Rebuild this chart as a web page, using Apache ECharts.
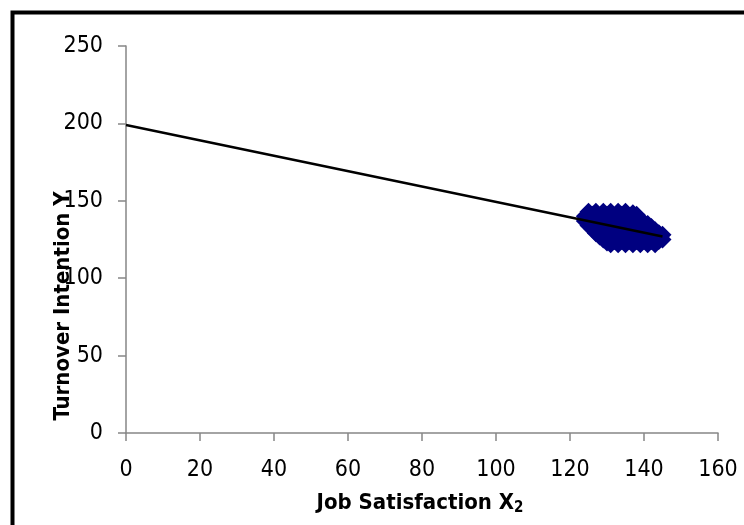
<!DOCTYPE html>
<html>
<head>
<meta charset="utf-8">
<script src="https://cdn.jsdelivr.net/npm/echarts@6/dist/echarts.min.js"></script>
<style>html,body{margin:0;padding:0;background:#fff;}#c{width:744px;height:525px;}</style>
</head>
<body>
<div id="c"></div>
<script>
// Observed scatter: job satisfaction (X2) values and turnover intention (Y) values
const satisfactionX = [
  124,124,
  125,125,125,
  126,126,126,
  127,127,127,127,
  128,128,128,128,
  129,129,129,129,129,
  130,130,130,130,130,
  131,131,131,131,131,131,
  132,132,132,132,132,
  133,133,133,133,133,133,
  134,134,134,134,134,
  135,135,135,135,135,135,
  136,136,136,136,136,
  137,137,137,137,137,137,
  138,138,138,138,138,
  139,139,139,139,139,
  140,140,140,140,
  141,141,141,141,
  142,142,142,
  143,143,143,
  144,144,
  145,145
];
const turnoverY = [
  137,140,
  134,138,143,
  132,136,141,
  129,133,137,143,
  127,131,135,140,
  125,129,133,137,143,
  123,127,131,135,141,
  122,126,130,134,138,143,
  124,128,132,136,140,
  122,126,130,134,138,143,
  124,128,132,136,141,
  122,126,130,134,138,143,
  124,128,132,136,140,
  122,126,130,134,138,142,
  124,128,132,136,141,
  122,126,130,134,138,
  124,128,132,136,
  122,126,130,135,
  124,128,133,
  122,127,131,
  124,129,
  125,128
];
// Fitted regression line end points
const trendX = [0, 145];
const trendY = [199, 127];
// Axis ticks
const xTicks = [0, 20, 40, 60, 80, 100, 120, 140, 160];
const yTicks = [0, 50, 100, 150, 200, 250];

const scatterData = satisfactionX.map((x, i) => [x, turnoverY[i]]);
const lineData = trendX.map((x, i) => [x, trendY[i]]);

const FONT = '"DejaVu Sans Condensed", "DejaVu Sans", sans-serif';
const chart = echarts.init(document.getElementById('c'), null, {renderer: 'canvas'});
chart.setOption({
  animation: false,
  backgroundColor: '#fff',
  grid: {left: 126, right: 26, top: 46, bottom: 92, containLabel: false},
  xAxis: {
    type: 'value',
    min: xTicks[0], max: xTicks[xTicks.length - 1], interval: 20,
    axisLine: {show: true, onZero: false, lineStyle: {color: '#868686', width: 1.5}},
    axisTick: {show: true, inside: false, length: 8, lineStyle: {color: '#868686', width: 1.5}},
    splitLine: {show: false},
    axisLabel: {margin: 26, color: '#000', fontFamily: FONT, fontSize: 23}
  },
  yAxis: {
    type: 'value',
    min: yTicks[0], max: yTicks[yTicks.length - 1], interval: 50,
    axisLine: {show: true, onZero: false, lineStyle: {color: '#868686', width: 1.5}},
    axisTick: {show: true, inside: false, length: 8, lineStyle: {color: '#868686', width: 1.5}},
    splitLine: {show: false},
    axisLabel: {margin: 23, color: '#000', fontFamily: FONT, fontSize: 23}
  },
  series: [
    {
      type: 'scatter',
      data: scatterData,
      symbol: 'diamond',
      symbolSize: 18,
      itemStyle: {color: '#000080', opacity: 1},
      z: 2
    },
    {
      type: 'line',
      data: lineData,
      showSymbol: false,
      symbol: 'none',
      lineStyle: {color: '#000', width: 2.5},
      z: 3
    }
  ],
  graphic: [
    {
      type: 'rect',
      shape: {x: 12.5, y: 12.5, width: 900, height: 700},
      style: {fill: 'none', stroke: '#000', lineWidth: 4},
      silent: true
    },
    {
      type: 'text',
      x: 420, y: 503,
      style: {
        text: 'Job Satisfaction X{sub|2}',
        fontFamily: FONT, fontSize: 22, fontWeight: 'bold', fill: '#000',
        align: 'center', verticalAlign: 'middle',
        rich: {sub: {fontSize: 15, fontWeight: 'bold', fontFamily: FONT, verticalAlign: 'bottom', padding: [11, 0, 0, 0]}}
      }
    },
    {
      type: 'text',
      x: 63, y: 306,
      rotation: Math.PI / 2,
      style: {
        text: 'Turnover Intention Y',
        fontFamily: FONT, fontSize: 22, fontWeight: 'bold', fill: '#000',
        align: 'center', verticalAlign: 'middle'
      }
    }
  ]
});
</script>
</body>
</html>
